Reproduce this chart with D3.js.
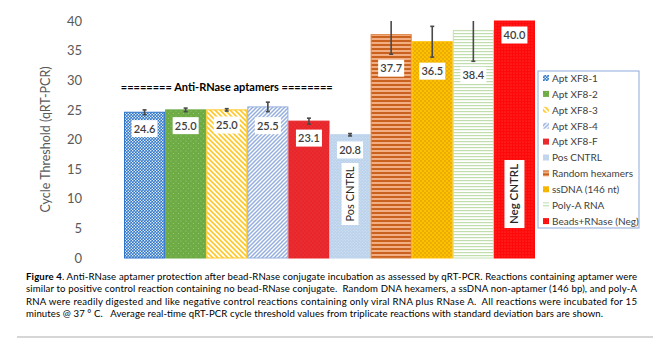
<html>
<head>
    <script src="https://cdn.jsdelivr.net/npm/d3@7/dist/d3.min.js"></script>
    <style>
        body { margin: 0; background: #fff; }
    </style>
</head>
<body>
    <script type="text/javascript">
        // chart data
        var categories = ["Apt XF8-1", "Apt XF8-2", "Apt XF8-3", "Apt XF8-4", "Apt XF8-F",
            "Pos CNTRL", "Random hexamers", "ssDNA (146 nt)", "Poly-A RNA", "Beads+RNase (Neg)"];
        var values = [24.6, 25.0, 25.0, 25.5, 23.1, 20.8, 37.7, 36.5, 38.4, 40.0];
        var errors = [0.4, 0.3, 0.2, 0.8, 0.5, 0.2, 3.3, 2.6, 5.2, 0];
        var yTicks = [0, 5, 10, 15, 20, 25, 30, 35, 40];
        var captionLines = [
            "Anti-RNase aptamer protection after bead-RNase conjugate incubation as assessed by qRT-PCR. Reactions containing aptamer were",
            "similar to positive control reaction containing no bead-RNase conjugate.  Random DNA hexamers, a ssDNA non-aptamer (146 bp), and poly-A",
            "RNA were readily digested and like negative control reactions containing only viral RNA plus RNase A.  All reactions were incubated for 15",
            "minutes @ 37 \u00b0 C.   Average real-time qRT-PCR cycle threshold values from triplicate reactions with standard deviation bars are shown."
        ];

        var width = 658;
        var height = 344;
        var margin = { top: 21, left: 124, right: 123, bottom: 86 };

        const svg = d3.select("body").append("svg")
            .attr("width", width)
            .attr("height", height)
            .style("font-family", "Lato, 'Open Sans', sans-serif");

        // fill patterns, one per series
        const defs = svg.append("defs");
        function pattern(id, w, h, bg, draw) {
            const p = defs.append("pattern").attr("id", id)
                .attr("patternUnits", "userSpaceOnUse")
                .attr("width", w).attr("height", h);
            p.append("rect").attr("width", w).attr("height", h).attr("fill", bg);
            draw(p);
        }
        const dots = (pts, r, c) => p => pts.forEach(d => p.append("circle").attr("cx", d[0]).attr("cy", d[1]).attr("r", r).attr("fill", c));
        const hline = (y, sw, c) => p => p.append("rect").attr("x", 0).attr("y", y).attr("width", 10).attr("height", sw).attr("fill", c);

        pattern("p0", 3, 3, "#2F75C8", dots([[0.75, 0.75], [2.25, 2.25]], 0.75, "#ffffff"));
        pattern("p1", 5, 5, "#6EAB45", dots([[1, 1], [3.5, 3.5]], 0.6, "#9CCB7C"));
        pattern("p2", 5, 5, "#ffffff", p => {
            p.append("path").attr("d", "M-1,-1 L6,6 M-1,4 L1,6 M4,-1 L6,1").attr("stroke", "#FFC829").attr("stroke-width", 1.6);
        });
        pattern("p3", 4, 4, "#ffffff", p => {
            p.append("path").attr("d", "M-1,5 L5,-1 M-1,1 L1,-1 M3,5 L5,3").attr("stroke", "#94AEDD").attr("stroke-width", 1.5);
        });
        pattern("p4", 4, 4, "#E8262B", dots([[1, 1], [3, 3]], 0.5, "#F04A4A"));
        pattern("p5", 3, 3, "#BBD2EC", dots([[0.75, 0.75], [2.25, 2.25]], 0.55, "#DCE8F6"));
        pattern("p6", 4, 4, "#F2AE82", hline(0, 2, "#C9621E"));
        pattern("p7", 4, 4, "#FFC000", dots([[1, 1], [3, 3]], 0.7, "#C78A10"));
        pattern("p8", 3, 3, "#ffffff", hline(0, 1.2, "#BFDDAD"));
        pattern("p9", 3, 3, "#FF0A0A", dots([[1, 1]], 0.45, "#FF8080"));

        var strokes = ["#2F75C8", "#6EAB45", "#FFC829", "#94AEDD", "#E8262B",
            "#BBD2EC", "#E0813F", "#FFC000", "#C5E0B4", "#FF0A0A"];

        const x = d3.scaleBand()
            .domain(categories)
            .range([margin.left, width - margin.right])
            .padding(0);

        const y = d3.scaleLinear()
            .domain([0, 40])
            .range([height - margin.bottom, margin.top]);

        // y axis: labels only, no line
        const yAxis = svg.append("g")
            .attr("transform", `translate(88,0)`)
            .call(d3.axisLeft(y).tickValues(yTicks).tickSize(0).tickPadding(6));
        yAxis.select(".domain").remove();
        yAxis.selectAll("text").attr("fill", "#595959").style("font-size", "13px")
            .style("font-family", "Lato, 'Open Sans', sans-serif");

        svg.append("text")
            .attr("transform", `translate(50, ${y(20)}) rotate(-90)`)
            .attr("text-anchor", "middle")
            .attr("fill", "#595959")
            .style("font-size", "12.5px")
            .text("Cycle Threshold (qRT-PCR)");

        // bars
        svg.append("g").selectAll("rect")
            .data(values)
            .join("rect")
                .attr("x", (d, i) => x(categories[i]) + 0.5)
                .attr("y", d => y(d))
                .attr("width", x.bandwidth() - 1)
                .attr("height", d => y(0) - y(d))
                .attr("fill", (d, i) => `url(#p${i})`)
                .attr("stroke", (d, i) => strokes[i])
                .attr("stroke-width", 1);

        // error bars (clipped at axis max)
        const eb = svg.append("g").attr("stroke", "#4a4a4a").attr("stroke-width", 1.6);
        values.forEach((v, i) => {
            if (!errors[i]) return;
            const cx = x(categories[i]) + x.bandwidth() / 2;
            const hi = Math.min(40, v + errors[i]), lo = v - errors[i];
            eb.append("line").attr("x1", cx).attr("x2", cx).attr("y1", y(hi)).attr("y2", y(lo));
            if (v + errors[i] <= 40)
                eb.append("line").attr("x1", cx - 2).attr("x2", cx + 2).attr("y1", y(hi)).attr("y2", y(hi));
            eb.append("line").attr("x1", cx - 2).attr("x2", cx + 2).attr("y1", y(lo)).attr("y2", y(lo));
        });

        // value labels below error bars
        const lab = svg.append("g");
        values.forEach((v, i) => {
            const cx = x(categories[i]) + x.bandwidth() / 2;
            const cy = y(v - errors[i]) + 14;
            lab.append("rect").attr("x", cx - 13).attr("y", cy - 8.5).attr("width", 26).attr("height", 17).attr("fill", "#fff");
            lab.append("text").attr("x", cx).attr("y", cy + 4)
                .attr("text-anchor", "middle").attr("fill", "#404040")
                .style("font-size", "11px").style("font-weight", 600)
                .text(v.toFixed(1));
        });

        // rotated control labels
        [[5, "Pos CNTRL", 62, 17], [9, "Neg CNTRL", 68, 20]].forEach(c => {
            const cx = x(categories[c[0]]) + x.bandwidth() / 2;
            const g = svg.append("g").attr("transform", `translate(${cx},${y(10.8)}) rotate(-90)`);
            g.append("rect").attr("x", -c[2] / 2).attr("y", -c[3] / 2).attr("width", c[2]).attr("height", c[3]).attr("fill", "#fff");
            g.append("text").attr("y", 4).attr("text-anchor", "middle").attr("fill", "#262626")
                .style("font-size", c[0] === 9 ? "11.5px" : "11px").style("font-weight", c[0] === 9 ? 600 : 400)
                .text(c[1]);
        });

        // group annotation
        svg.append("text")
            .attr("x", (x(categories[0]) + x(categories[4]) + x.bandwidth()) / 2)
            .attr("y", y(28.2))
            .attr("text-anchor", "middle")
            .attr("fill", "#000")
            .style("font-size", "11px").style("font-weight", 700)
            .text("======== Anti-RNase aptamers ========");

        // legend
        const lg = svg.append("g").attr("transform", "translate(538,71)");
        lg.append("rect").attr("width", 101).attr("height", 157)
            .attr("fill", "#fff").attr("stroke", "#8EA9DB").attr("stroke-width", 1);
        categories.forEach((c, i) => {
            const row = lg.append("g").attr("transform", `translate(5,${7 + i * 15.9})`);
            row.append("rect").attr("x", 0).attr("y", -3).attr("width", 6).attr("height", 6)
                .attr("fill", `url(#p${i})`);
            row.append("text").attr("x", 9).attr("y", 3.8).attr("fill", "#404040")
                .style("font-size", "10px").text(c);
        });

        // caption (keep the double spaces)
        const cap = svg.append("g").style("font-size", "9.6px").attr("fill", "#000");
        var capWidths = [611, 611, 611, 577];
        captionLines.forEach((t, i) => {
            const s = t.replace(/  /g, " \u00a0");
            const tx = cap.append("text").attr("x", 26).attr("y", 280 + i * 12.4);
            if (i === 0) {
                tx.append("tspan").style("font-weight", 700).text("Figure 4");
                tx.append("tspan").text(". " + s);
            } else {
                tx.text(s);
            }
            tx.attr("textLength", capWidths[i]).attr("lengthAdjust", "spacing");
        });

        svg.append("line").attr("x1", 17).attr("x2", 653).attr("y1", 337).attr("y2", 337)
            .attr("stroke", "#c8c8c8").attr("stroke-width", 1.5);
    </script>
</body>
</html>
